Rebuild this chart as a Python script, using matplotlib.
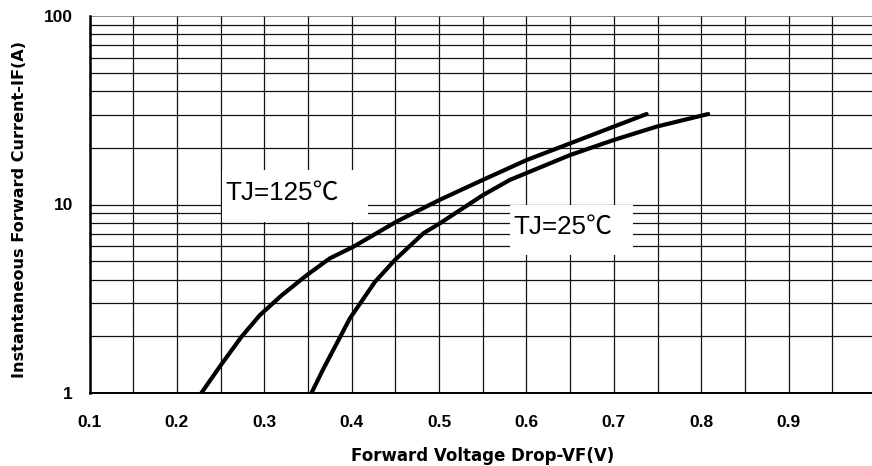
import matplotlib
matplotlib.use("Agg")
import matplotlib.pyplot as plt
from matplotlib.patches import Rectangle
import numpy as np

# Data
vf_125 = [0.228, 0.250, 0.274, 0.295, 0.320, 0.349, 0.375, 0.402, 0.451, 0.501, 0.550, 0.600, 0.650, 0.700, 0.7375]
if_125 = [1.0, 1.40, 1.99, 2.59, 3.30, 4.23, 5.18, 5.97, 8.1, 10.6, 13.5, 17.2, 21.1, 25.9, 30.2]

vf_25 = [0.354, 0.3675, 0.398, 0.4267, 0.4495, 0.482, 0.501, 0.550, 0.581, 0.650, 0.700, 0.749, 0.808]
if_25 = [1.0, 1.34, 2.49, 3.89, 5.08, 7.03, 7.95, 11.2, 13.5, 18.3, 22.0, 25.9, 30.2]

x_ticks = [0.1, 0.2, 0.3, 0.4, 0.5, 0.6, 0.7, 0.8, 0.9, 1.0]
x_ticklabels = ["0.1", "0.2", "0.3", "0.4", "0.5", "0.6", "0.7", "0.8", "0.9", "1"]
y_ticks = [1, 10, 100]
y_ticklabels = ["1", "10", "100"]

label_125 = "TJ=125℃"
label_25 = "TJ=25℃"

W, H = 872, 466
fig = plt.figure(figsize=(W / 100, H / 100), dpi=100)
ax = fig.add_axes([89.5 / W, (H - 393) / H, (876 - 89.5) / W, (393 - 16) / H])

ax.set_yscale("log")
ax.set_xlim(0.1, 1.0)
ax.set_ylim(1, 100)

# grid
grid_kw = dict(color="#111111", lw=0.9, zorder=1)
for xv in np.arange(0.1, 1.0001, 0.05):
    ax.axvline(xv, **grid_kw)
for dec in [1, 10]:
    for m in range(1, 10):
        ax.axhline(dec * m, **grid_kw)
ax.axhline(100, color="#777777", lw=1.2, zorder=1)

# white label boxes
ax.add_patch(Rectangle((0.2516, 8.1), 0.4187 - 0.2516, 15.2 - 8.1,
                       facecolor="white", edgecolor="none", zorder=2))
ax.add_patch(Rectangle((0.581, 5.40), 0.722 - 0.581, 9.9 - 5.40,
                       facecolor="white", edgecolor="none", zorder=2))

fam = ["Liberation Sans", "Noto Sans CJK SC", "DejaVu Sans"]
ax.text(0.255, 10.6, label_125, family=fam, fontsize=18.7, va="baseline",
        ha="left", zorder=3)
ax.text(0.585, 7.03, label_25, family=fam, fontsize=18.7, va="baseline",
        ha="left", zorder=3)

# curves
ax.plot(vf_125, if_125, color="black", lw=3.0, solid_capstyle="round",
        solid_joinstyle="round", zorder=4)
ax.plot(vf_25, if_25, color="black", lw=3.0, solid_capstyle="round",
        solid_joinstyle="round", zorder=4)

ax.set_xticks(x_ticks)
ax.set_xticklabels(x_ticklabels)
ax.set_yticks(y_ticks)
ax.set_yticklabels(y_ticklabels)
ax.minorticks_off()
ax.yaxis.set_minor_locator(matplotlib.ticker.NullLocator())
ax.tick_params(axis="both", length=0)
ax.tick_params(axis="x", pad=16)
ax.tick_params(axis="y", pad=12)
for lab in ax.get_xticklabels() + ax.get_yticklabels():
    lab.set_fontfamily("Liberation Sans")
    lab.set_fontweight("bold")
    lab.set_fontsize(12.5)

ax.spines["left"].set_linewidth(1.8)
ax.spines["bottom"].set_linewidth(1.4)
ax.spines["top"].set_visible(False)
ax.spines["right"].set_visible(False)

lab_font = "DejaVu Sans"
ax.set_xlabel("Forward Voltage Drop-VF(V)", family=lab_font,
              fontweight="bold", fontsize=12, labelpad=12)
ax.set_ylabel("Instantaneous Forward Current-IF(A)", family=lab_font,
              fontweight="bold", fontsize=11.6)
ax.yaxis.set_label_coords((27 - 89.5) / 786.5, (393 - 210) / 377)

fig.savefig("out.png", dpi=100)
